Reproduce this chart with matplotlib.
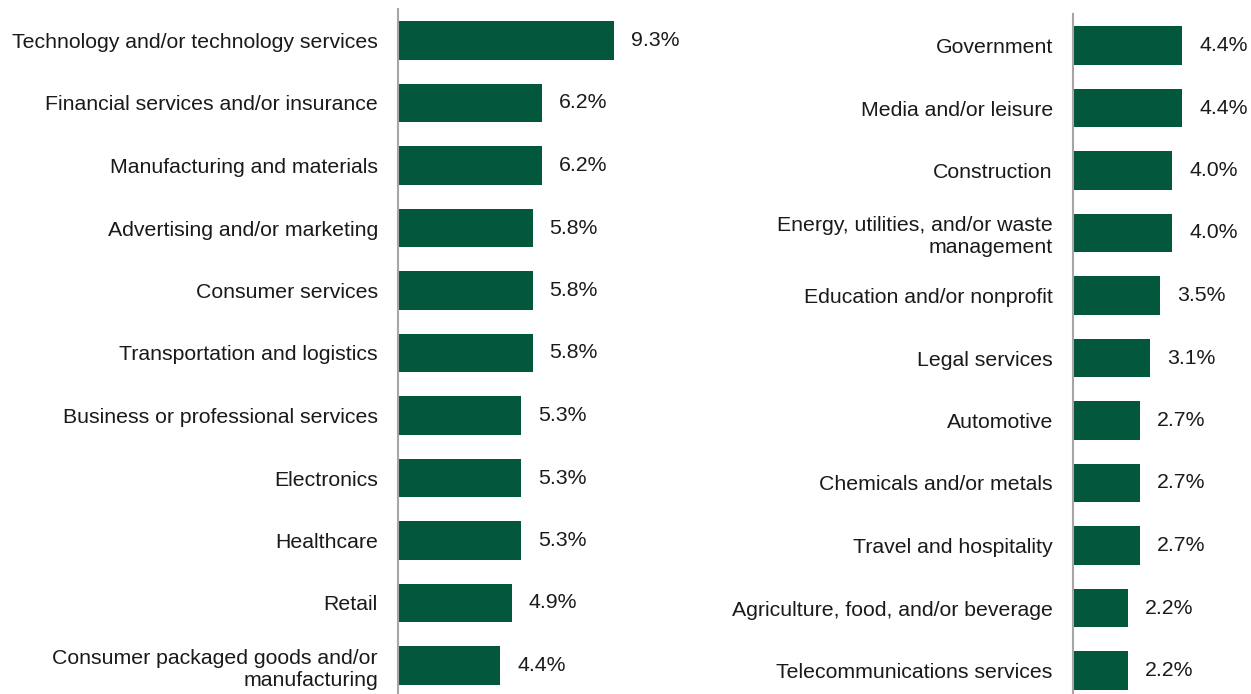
import matplotlib
matplotlib.use("Agg")
import matplotlib.pyplot as plt

BAR_COLOR = "#03573D"
AXIS_COLOR = "#A6A6A6"
TEXT_COLOR = "#1A1A1A"
FS = 15.3

plt.rcParams["font.family"] = ["Liberation Sans", "DejaVu Sans"]

left_labels = [
    "Technology and/or technology services",
    "Financial services and/or insurance",
    "Manufacturing and materials",
    "Advertising and/or marketing",
    "Consumer services",
    "Transportation and logistics",
    "Business or professional services",
    "Electronics",
    "Healthcare",
    "Retail",
    "Consumer packaged goods and/or\nmanufacturing",
]
left_values = [9.3, 6.2, 6.2, 5.8, 5.8, 5.8, 5.3, 5.3, 5.3, 4.9, 4.4]

right_labels = [
    "Government",
    "Media and/or leisure",
    "Construction",
    "Energy, utilities, and/or waste\nmanagement",
    "Education and/or nonprofit",
    "Legal services",
    "Automotive",
    "Chemicals and/or metals",
    "Travel and hospitality",
    "Agriculture, food, and/or beverage",
    "Telecommunications services",
]
right_values = [4.4, 4.4, 4.0, 4.0, 3.5, 3.1, 2.7, 2.7, 2.7, 2.2, 2.2]

W, H = 1251, 694
fig = plt.figure(figsize=(W / 100, H / 100), dpi=100)
fig.patch.set_facecolor("white")


def make_axes(x0, top, px_per_unit, xmax):
    # place an axes from pixel coordinates (origin top-left)
    n = 11
    row = 62.5
    height = n * row
    width = xmax * px_per_unit
    return fig.add_axes([x0 / W, (H - top - height) / H, width / W, height / H])


def draw_panel(ax, labels, values, xmax, px_per_unit):
    for s in ["top", "right", "bottom"]:
        ax.spines[s].set_visible(False)
    ax.spines["left"].set_color(AXIS_COLOR)
    ax.spines["left"].set_linewidth(1.5)

    y = list(range(len(values)))
    ax.barh(y, values, height=0.62, color=BAR_COLOR, edgecolor="none")
    ax.set_xlim(0, xmax)
    ax.set_ylim(len(values) - 0.5, -0.5)
    ax.set_xticks([])
    ax.set_yticks(y)
    ax.set_yticklabels(labels, fontsize=FS, color=TEXT_COLOR, ha="right")
    ax.tick_params(axis="y", length=0, pad=14.5)

    offset = 17 / px_per_unit
    for yi, v in zip(y, values):
        ax.text(v + offset, yi, f"{v:.1f}%", fontsize=FS,
                color=TEXT_COLOR, va="center", ha="left", clip_on=False)


ax1 = make_axes(398, 9.25, 23.2, 10)
draw_panel(ax1, left_labels, left_values, 10, 23.2)

ax2 = make_axes(1073, 14.25, 24.8, 7)
draw_panel(ax2, right_labels, right_values, 7, 24.8)

fig.savefig("out.png", dpi=100, facecolor="white")
